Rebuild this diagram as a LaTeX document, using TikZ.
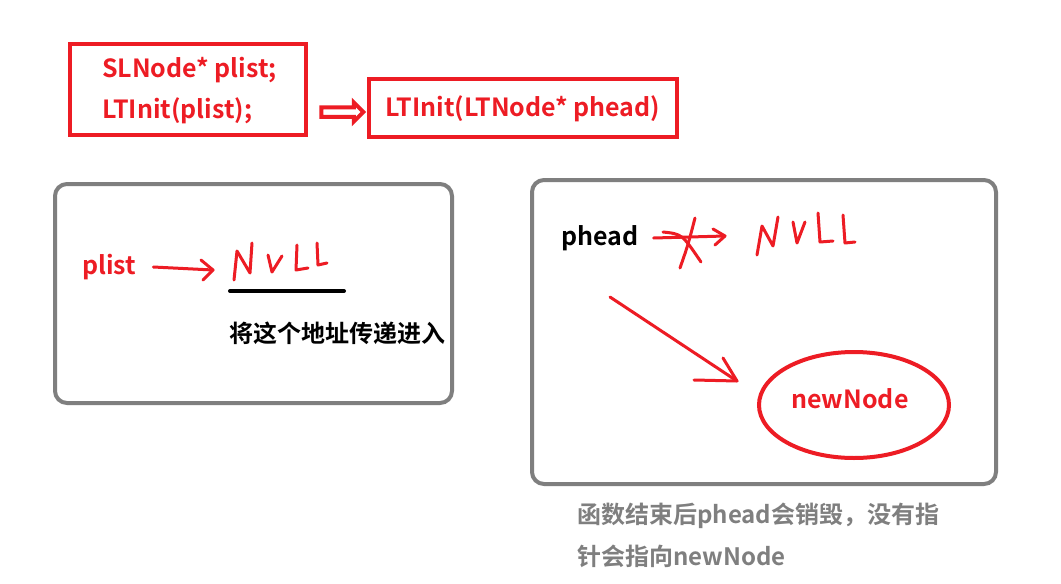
\documentclass[tikz,border=0pt]{standalone}
\usepackage{fontspec}
\setmainfont{Noto Sans CJK SC}[BoldFont={Noto Sans CJK SC Bold}]
\usetikzlibrary{shapes.geometric,shapes.arrows,positioning}

\definecolor{paintred}{HTML}{ED1C24}
\definecolor{framegray}{HTML}{7F7F7F}

\tikzset{
  bigtext/.style={font=\fontsize{25}{30}\selectfont\bfseries,inner sep=0pt},
  cjktext/.style={font=\fontsize{24}{30}\selectfont\bfseries,inner sep=0pt},
  codebox/.style={draw=paintred,line width=4.5pt},
  framebox/.style={draw=framegray,line width=4pt,rounded corners=12pt},
  handline/.style={draw=paintred,line width=3pt,line cap=round,line join=round}
}

\begin{document}
\begin{tikzpicture}[x=1pt,y=-1pt]
        % =========================================================
        % Leinwand 1061 x 584 (1 Pixel = 1pt, y nach unten)
        % =========================================================
        \useasboundingbox[fill=white] (0,0) rectangle (1061,584);

        % ---------------------------------------------------------
        % Oben: Aufruf -> Funktionskopf
        % ---------------------------------------------------------

        \draw[codebox] (70,44) rectangle (306,135);
        \node[bigtext,text=paintred,anchor=west] (decl) at (102,70) {SLNode* plist;};
        \node[bigtext,text=paintred,anchor=west] (call) at (102,111) {LTInit(plist);};

        \draw[codebox] (369,79) rectangle (677,137);
        \node[bigtext,text=paintred] (head) at (523,109) {LTInit(LTNode* phead)};

        % Hohler Pfeil zwischen den Kaesten
        \node[single arrow,draw=paintred,fill=white,line width=4pt,
              minimum width=19pt,minimum height=42pt,
              single arrow head extend=4pt,inner sep=2pt] (pass) at (340,112) {};

        % ---------------------------------------------------------
        % Links: plist zeigt auf NULL
        % ---------------------------------------------------------

        \draw[framebox] (55,184) rectangle (452,403);

        \node[bigtext,text=paintred,anchor=west] (plist) at (82,267) {plist};
        \coordinate (plisttip) at (213,270);
        \draw[handline] ([xshift=17pt]plist.east) -- (plisttip);
        \draw[handline] (201,260) -- (plisttip) -- (203,280);

        % NULL (Handschrift)
        \draw[handline] (234,280) -- (237,251) -- (250,273) -- (252,243);
        \draw[handline] (268,255) -- (272,272) -- (282,256);
        \draw[handline] (297,245) -- (296,270) -- (308,268);
        \draw[handline] (317,243) -- (318,265) -- (327,263);

        % Unterstrich
        \draw[line width=4pt,line cap=round] (230,291) -- (344,291);

        \node[cjktext,anchor=west] (addr) at (229,333) {将这个地址传递进入};

        % ---------------------------------------------------------
        % Rechts: phead in der Funktion
        % ---------------------------------------------------------

        \draw[framebox] (532,180) rectangle (996,484);

        \node[bigtext,anchor=west] (phead) at (561,238) {phead};
        \coordinate (pheadtip) at (725,236);
        \draw[handline] ([xshift=15pt]phead.east) -- (pheadtip);
        \draw[handline] (713,229) -- (pheadtip) -- (715,245);

        % durchgestrichen
        \draw[handline] (663,232) .. controls (682,234) .. (701,262);
        \draw[handline] (695,218) .. controls (688,245) .. (680,268);

        % NULL (Handschrift)
        \draw[handline] (757,255) -- (762,226) -- (773,246) -- (778,217);
        \draw[handline] (793,222) -- (797,243) -- (805,222);
        \draw[handline] (818,213) -- (820,242) -- (833,241);
        \draw[handline] (843,215) -- (845,243) -- (855,242);

        % neuer Knoten
        \node[ellipse,draw=paintred,line width=4pt,minimum width=190pt,
              minimum height=106pt] (newnode) at (854,405) {};
        \node[bigtext,text=paintred] (newlabel) at (850,399) {newNode};

        \coordinate (newtail) at (610,297);
        \coordinate (newtip) at (737,381);
        \draw[handline] (newtail) -- (newtip);
        \draw[handline] (723,358) -- (newtip) -- (694,380);

        % Anmerkung unten
        \node[cjktext,text=framegray,anchor=west] (note1) at (577,516) {函数结束后phead会销毁，没有指};
        \node[cjktext,text=framegray,anchor=west] (note2) at (577,556) {针会指向newNode};

\end{tikzpicture}
\end{document}
